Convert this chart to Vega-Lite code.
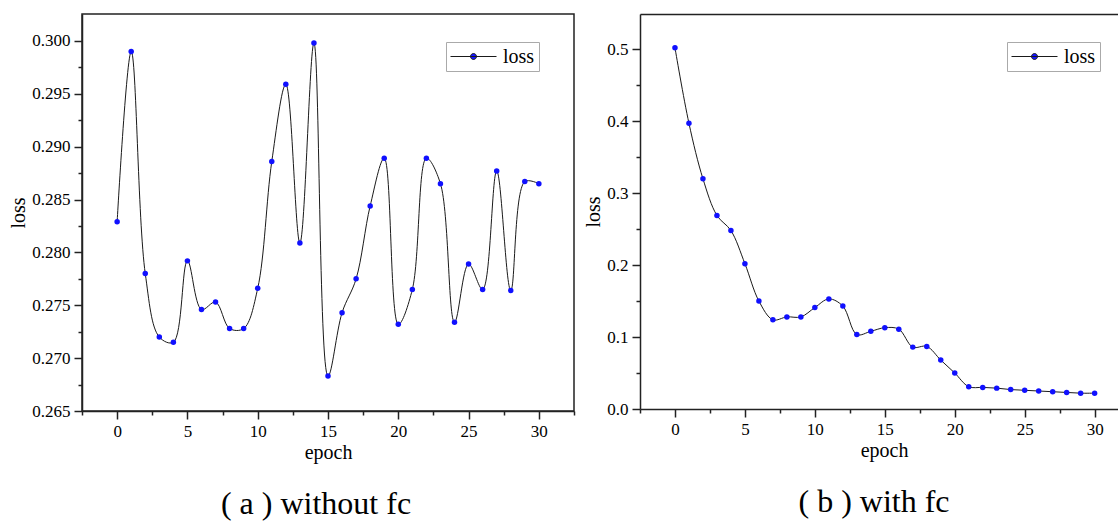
{
  "$schema": "https://vega.github.io/schema/vega-lite/v6.json",
  "background": "white",
  "padding": {"left": 8, "top": 13, "right": 0, "bottom": 0},
  "autosize": {"type": "pad"},
  "spacing": 7,
  "config": {
    "font": "'Liberation Serif', 'Times New Roman', 'DejaVu Serif', serif",
    "view": {"stroke": "#222222", "strokeWidth": 1.5},
    "axis": {
      "grid": false,
      "domainColor": "#222222",
      "domainWidth": 1.5,
      "tickColor": "#222222",
      "tickWidth": 1.5,
      "labelFont": "'Liberation Serif', 'Times New Roman', 'DejaVu Serif', serif",
      "labelFontSize": 17,
      "labelColor": "black",
      "titleFont": "'Liberation Serif', 'Times New Roman', 'DejaVu Serif', serif",
      "titleFontSize": 20,
      "titleFontWeight": "normal",
      "titleColor": "black",
      "labelPadding": 4,
      "titlePadding": 3
    },
    "legend": {"labelFont": "'Liberation Serif', 'Times New Roman', 'DejaVu Serif', serif"},
    "title": {"font": "'Liberation Serif', 'Times New Roman', 'DejaVu Serif', serif"}
  },
  "datasets": {
    "a": [
      {"epoch": 0, "loss": 0.2829}, {"epoch": 1, "loss": 0.2990}, {"epoch": 2, "loss": 0.2780}, {"epoch": 3, "loss": 0.2720},
      {"epoch": 4, "loss": 0.2715}, {"epoch": 5, "loss": 0.2792}, {"epoch": 6, "loss": 0.2746}, {"epoch": 7, "loss": 0.2753},
      {"epoch": 8, "loss": 0.2728}, {"epoch": 9, "loss": 0.2728}, {"epoch": 10, "loss": 0.2766}, {"epoch": 11, "loss": 0.2886},
      {"epoch": 12, "loss": 0.2959}, {"epoch": 13, "loss": 0.2809}, {"epoch": 14, "loss": 0.2998}, {"epoch": 15, "loss": 0.2683},
      {"epoch": 16, "loss": 0.2743}, {"epoch": 17, "loss": 0.2775}, {"epoch": 18, "loss": 0.2844}, {"epoch": 19, "loss": 0.2889},
      {"epoch": 20, "loss": 0.2732}, {"epoch": 21, "loss": 0.2765}, {"epoch": 22, "loss": 0.2889}, {"epoch": 23, "loss": 0.2865},
      {"epoch": 24, "loss": 0.2734}, {"epoch": 25, "loss": 0.2789}, {"epoch": 26, "loss": 0.2765}, {"epoch": 27, "loss": 0.2877},
      {"epoch": 28, "loss": 0.2764}, {"epoch": 29, "loss": 0.2867}, {"epoch": 30, "loss": 0.2865}
    ],
    "b": [
      {"epoch": 0, "loss": 0.502}, {"epoch": 1, "loss": 0.397}, {"epoch": 2, "loss": 0.320}, {"epoch": 3, "loss": 0.269},
      {"epoch": 4, "loss": 0.248}, {"epoch": 5, "loss": 0.202}, {"epoch": 6, "loss": 0.150}, {"epoch": 7, "loss": 0.124},
      {"epoch": 8, "loss": 0.128}, {"epoch": 9, "loss": 0.128}, {"epoch": 10, "loss": 0.141}, {"epoch": 11, "loss": 0.153},
      {"epoch": 12, "loss": 0.143}, {"epoch": 13, "loss": 0.1035}, {"epoch": 14, "loss": 0.108}, {"epoch": 15, "loss": 0.113},
      {"epoch": 16, "loss": 0.111}, {"epoch": 17, "loss": 0.086}, {"epoch": 18, "loss": 0.087}, {"epoch": 19, "loss": 0.068},
      {"epoch": 20, "loss": 0.050}, {"epoch": 21, "loss": 0.031}, {"epoch": 22, "loss": 0.030}, {"epoch": 23, "loss": 0.029},
      {"epoch": 24, "loss": 0.027}, {"epoch": 25, "loss": 0.026}, {"epoch": 26, "loss": 0.025}, {"epoch": 27, "loss": 0.024},
      {"epoch": 28, "loss": 0.023}, {"epoch": 29, "loss": 0.022}, {"epoch": 30, "loss": 0.022}
    ]
  },
  "resolve": {"scale": {"color": "independent"}, "legend": {"color": "independent"}},
  "hconcat": [
    {
      "width": 492,
      "height": 397,
      "data": {"name": "a"},
      "title": {"text": "( a ) without fc", "orient": "bottom", "anchor": "middle", "fontSize": 32, "fontWeight": "normal", "color": "black", "dx": -12, "offset": 27},
      "encoding": {
        "x": {
          "field": "epoch", "type": "quantitative",
          "scale": {"domain": [-2.5, 32.5], "nice": false, "zero": false},
          "axis": {
            "title": "epoch",
            "values": [-2.5, 0, 2.5, 5, 7.5, 10, 12.5, 15, 17.5, 20, 22.5, 25, 27.5, 30, 32.5],
            "labelExpr": "datum.value % 5 == 0 ? format(datum.value, 'd') : ''",
            "tickSize": {"condition": {"test": "datum.value % 5 == 0", "value": 8}, "value": 4}
          }
        },
        "y": {
          "field": "loss", "type": "quantitative",
          "scale": {"domain": [0.265, 0.30255], "nice": false, "zero": false},
          "axis": {
            "title": "loss",
            "values": [0.265, 0.2675, 0.27, 0.2725, 0.275, 0.2775, 0.28, 0.2825, 0.285, 0.2875, 0.29, 0.2925, 0.295, 0.2975, 0.3],
            "labelExpr": "abs(datum.value * 200 - round(datum.value * 200)) < 0.001 ? format(datum.value, '.3f') : ''",
            "tickSize": {"condition": {"test": "abs(datum.value * 200 - round(datum.value * 200)) < 0.001", "value": 8}, "value": 4}
          }
        }
      },
      "layer": [
        {
          "mark": {"type": "line", "interpolate": "catmull-rom", "strokeWidth": 1},
          "encoding": {
            "color": {
              "datum": "loss",
              "scale": {"range": ["#1a1a1a"]},
              "legend": {
                "title": null, "orient": "none", "legendX": 364, "legendY": 28,
                "symbolType": "M-1,0H1M-0.13,0A0.13,0.13,0,1,1,0.13,0A0.13,0.13,0,1,1,-0.13,0Z",
                "symbolSize": 2116, "symbolStrokeWidth": 1,
                "labelFontSize": 20, "labelColor": "black", "labelOffset": 6,
                "padding": 4, "strokeColor": "#aaaaaa", "fillColor": "white", "clipHeight": 21,
                "encode": {"symbols": {"update": {"fill": {"value": "#1515ff"}, "stroke": {"value": "#1a1a1a"}, "strokeWidth": {"value": 1}, "opacity": {"value": 1}}}}
              }
            }
          }
        },
        {"mark": {"type": "circle", "size": 30, "color": "#1010ff", "opacity": 1}}
      ]
    },
    {
      "width": 478,
      "height": 395,
      "view": {"stroke": null},
      "data": {"name": "b"},
      "title": {"text": "( b ) with fc", "orient": "bottom", "anchor": "middle", "fontSize": 32, "fontWeight": "normal", "color": "black", "dx": -5, "offset": 27},
      "encoding": {
        "x": {
          "field": "epoch", "type": "quantitative",
          "scale": {"domain": [-2.5, 31.67], "nice": false, "zero": false},
          "axis": {
            "orient": "bottom",
            "title": "epoch",
            "titleX": 244,
            "values": [-2.5, 0, 2.5, 5, 7.5, 10, 12.5, 15, 17.5, 20, 22.5, 25, 27.5, 30],
            "labelExpr": "datum.value % 5 == 0 ? format(datum.value, 'd') : ''",
            "tickSize": {"condition": {"test": "datum.value % 5 == 0", "value": 8}, "value": 4}
          }
        },
        "y": {
          "field": "loss", "type": "quantitative",
          "scale": {"domain": [0, 0.549], "nice": false, "zero": false},
          "axis": {
            "title": "loss",
            "values": [0, 0.05, 0.1, 0.15, 0.2, 0.25, 0.3, 0.35, 0.4, 0.45, 0.5],
            "labelExpr": "abs(datum.value * 10 - round(datum.value * 10)) < 0.001 ? format(datum.value, '.1f') : ''",
            "tickSize": {"condition": {"test": "abs(datum.value * 10 - round(datum.value * 10)) < 0.001", "value": 8}, "value": 4}
          }
        }
      },
      "resolve": {"axis": {"x": "independent"}},
      "layer": [
        {
          "mark": {"type": "line", "interpolate": "catmull-rom", "strokeWidth": 1},
          "encoding": {
            "color": {
              "datum": "loss",
              "scale": {"range": ["#1a1a1a"]},
              "legend": {
                "title": null, "orient": "none", "legendX": 367, "legendY": 28,
                "symbolType": "M-1,0H1M-0.13,0A0.13,0.13,0,1,1,0.13,0A0.13,0.13,0,1,1,-0.13,0Z",
                "symbolSize": 2116, "symbolStrokeWidth": 1,
                "labelFontSize": 20, "labelColor": "black", "labelOffset": 6,
                "padding": 4, "strokeColor": "#aaaaaa", "fillColor": "white", "clipHeight": 21,
                "encode": {"symbols": {"update": {"fill": {"value": "#1515ff"}, "stroke": {"value": "#1a1a1a"}, "strokeWidth": {"value": 1}, "opacity": {"value": 1}}}}
              }
            }
          }
        },
        {
          "mark": {"type": "circle", "size": 30, "color": "#1010ff", "opacity": 1},
          "encoding": {
            "x": {
              "field": "epoch", "type": "quantitative",
              "axis": {"orient": "top", "labels": false, "ticks": false, "title": null, "domain": true}
            }
          }
        }
      ]
    }
  ]
}
